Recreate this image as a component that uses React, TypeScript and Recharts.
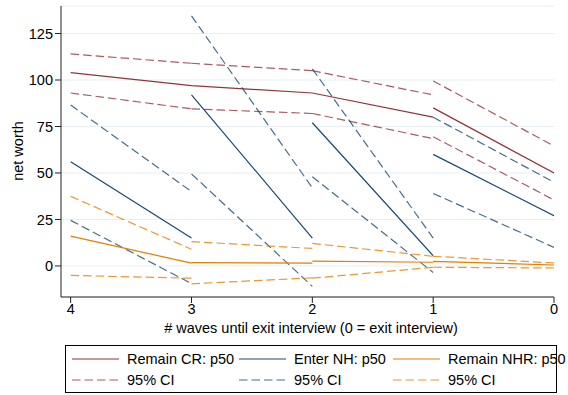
import React from 'react'
import { LineChart, Line, XAxis, YAxis, CartesianGrid } from 'recharts'

// waves until exit interview, left to right
const waves = [4, 3, 2, 1, 0]
const yTicks = [0, 25, 50, 75, 100, 125]

// each pair = [value at wave w, value at wave w-1], one pair per segment
const crMedian = [[104, 97], [97, 93], [93, 80], [85, 50]]
const crUpper = [[114, 109], [109, 105], [105, 92], [99.5, 64.5]]
const crLower = [[93, 84.5], [84.5, 82], [82, 68.5], [69.5, 35.5]]

const nhMedian = [[56, 15], [92, 15], [77, 5.5], [60, 27]]
const nhUpper = [[86.5, 40], [134.5, 42], [106, 15], [80, 45]]
const nhLower = [[24.5, -9.5], [49.5, -11], [48, -3.5], [39, 10]]

const nhrMedian = [[16, 1.5], [1.8, 1.5], [2.6, 2], [2.5, 0.5]]
const nhrUpper = [[37.4, 9], [13.1, 9.4], [12.1, 5.2], [5.2, 1.6]]
const nhrLower = [[-5.1, -6.6], [-9.6, -6.4], [-6.6, -0.7], [-0.7, -1.1]]

const RED = '#90353b'
const BLUE = '#1a476f'
const ORANGE = '#e37e00'
const FONT = '"Liberation Sans", Arial, sans-serif'
const DASH = '8.5 4'

const toPoints = (segs: number[][]) =>
  segs.flatMap((s, i) => [
    { x: waves[i], y: s[0] },
    { x: waves[i + 1], y: s[1] },
    { x: waves[i + 1], y: null }
  ])

const series = [
  { key: 'crMed', segs: crMedian, color: RED, dashed: false },
  { key: 'crUp', segs: crUpper, color: RED, dashed: true },
  { key: 'crLo', segs: crLower, color: RED, dashed: true },
  { key: 'nhMed', segs: nhMedian, color: BLUE, dashed: false },
  { key: 'nhUp', segs: nhUpper, color: BLUE, dashed: true },
  { key: 'nhLo', segs: nhLower, color: BLUE, dashed: true },
  { key: 'nhrMed', segs: nhrMedian, color: ORANGE, dashed: false },
  { key: 'nhrUp', segs: nhrUpper, color: ORANGE, dashed: true },
  { key: 'nhrLo', segs: nhrLower, color: ORANGE, dashed: true }
]

const legendItems = [
  { label: 'Remain CR: p50', color: RED, dashed: false, left: 6, row: 0 },
  { label: 'Enter NH: p50', color: BLUE, dashed: false, left: 173, row: 0 },
  { label: 'Remain NHR: p50', color: ORANGE, dashed: false, left: 327, row: 0 },
  { label: '95% CI', color: RED, dashed: true, left: 6, row: 1 },
  { label: '95% CI', color: BLUE, dashed: true, left: 173, row: 1 },
  { label: '95% CI', color: ORANGE, dashed: true, left: 327, row: 1 }
]

function ChartLegend() {
  return (
    <div
      style={{
        position: 'absolute',
        left: 65,
        top: 345,
        width: 492,
        height: 48,
        border: '1px solid #000',
        boxSizing: 'border-box',
        fontFamily: FONT,
        fontSize: 14.5
      }}
    >
      {legendItems.map((it, i) => (
        <div
          key={i}
          style={{
            position: 'absolute',
            left: it.left,
            top: it.row === 0 ? 4 : 25,
            height: 18,
            display: 'flex',
            alignItems: 'center',
            whiteSpace: 'nowrap'
          }}
        >
          <svg width={47} height={4} style={{ marginRight: 8 }}>
            <line
              x1={0}
              x2={47}
              y1={2}
              y2={2}
              stroke={it.color}
              strokeWidth={1.2}
              strokeDasharray={it.dashed ? DASH : undefined}
              strokeOpacity={it.dashed ? 0.8 : 1}
            />
          </svg>
          <span>{it.label}</span>
        </div>
      ))}
    </div>
  )
}

export default function App() {
  return (
    <div style={{ position: 'absolute', left: 0, top: 0, width: 568, height: 395, background: '#fff' }}>
      <LineChart width={568} height={395} margin={{ top: 6, right: 14, left: 0, bottom: 48 }}>
        <CartesianGrid horizontal vertical={false} stroke="#e6eff1" strokeWidth={1} />
        <XAxis
          dataKey="x"
          type="number"
          domain={[0, 4.08]}
          reversed
          ticks={waves}
          height={50}
          tickSize={6}
          tickMargin={1}
          stroke="#222"
          tick={{ fill: '#000', fontSize: 14.5, fontFamily: FONT }}
          allowDataOverflow
          label={{
            content: () => (
              <text x={311} y={333} textAnchor="middle" fontSize={14.5} fontFamily={FONT} fill="#000">
                # waves until exit interview (0 = exit interview)
              </text>
            )
          }}
        />
        <YAxis
          type="number"
          domain={[-16.7, 139.8]}
          ticks={yTicks}
          width={61}
          tickSize={6}
          tickMargin={2}
          stroke="#222"
          tick={{ fill: '#000', fontSize: 14.5, fontFamily: FONT }}
          allowDataOverflow
          label={{
            content: () => (
              <text
                x={18}
                y={151}
                transform="rotate(-90 18 151)"
                textAnchor="middle"
                dominantBaseline="central"
                fontSize={14.5}
                fontFamily={FONT}
                fill="#000"
              >
                net worth
              </text>
            )
          }}
        />
        {series.map((s) => (
          <Line
            key={s.key}
            data={toPoints(s.segs)}
            dataKey="y"
            type="linear"
            stroke={s.color}
            strokeWidth={1.2}
            strokeDasharray={s.dashed ? DASH : undefined}
            strokeOpacity={s.dashed ? 0.8 : 1}
            dot={false}
            activeDot={false}
            connectNulls={false}
            isAnimationActive={false}
          />
        ))}
      </LineChart>
      <ChartLegend />
    </div>
  )
}
